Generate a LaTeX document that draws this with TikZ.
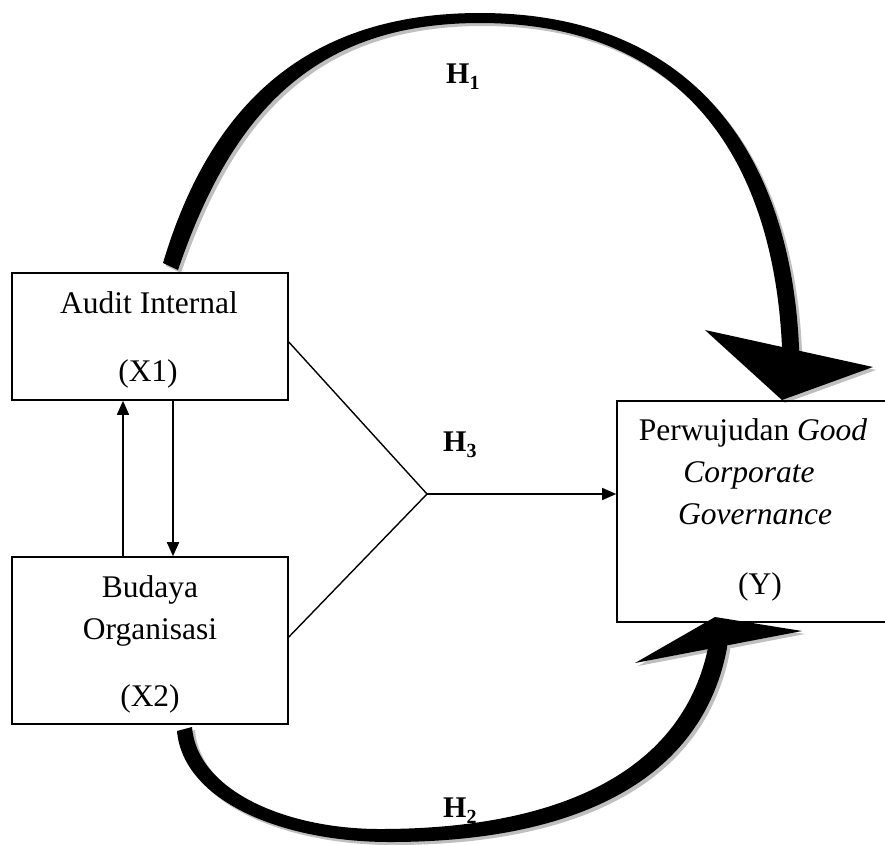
\documentclass[tikz,border=0pt]{standalone}
\usepackage{fontspec}
\setmainfont{Liberation Serif}
\usetikzlibrary{arrows.meta}
\newcommand{\hlab}[1]{\textbf{H}\raisebox{-6pt}{\fontsize{20}{20}\selectfont\bfseries #1}}
\begin{document}
\begin{tikzpicture}[x=1pt,y=-1pt,
  box/.style={draw, line width=1.6pt, rectangle, inner sep=0pt},
  txt/.style={inner sep=0pt, anchor=base, font=\fontsize{31.5}{38}\selectfont},
  hl/.style={inner sep=0pt, anchor=base west, font=\fontsize{30}{36}\selectfont},
  fanline/.style={line width=1.4pt},
  arr/.style={line width=1.6pt, -{Triangle[length=14pt,width=12pt]}},
  shadowfill/.style={fill=black!25, shift={(3,3)}},
  blk/.style={fill=black}
]
\useasboundingbox (0,0) rectangle (885,844);

% H1 curved arrow: shadow
\fill[shadowfill] (163,263) .. controls (208,112) and (300,13) .. (480,13)
  .. controls (690,13) and (790,150) .. (799,347) -- (799,355) -- (782,355) -- (782,347)
  .. controls (773,155) and (680,23) .. (480,23)
  .. controls (310,23) and (230,118) .. (178,270) -- cycle;
\fill[shadowfill] (705,330) -- (873,367) -- (782,400) -- cycle;
% H1 curved arrow: body
\fill[blk] (163,263) .. controls (208,112) and (300,13) .. (480,13)
  .. controls (690,13) and (790,150) .. (799,347) -- (799,355) -- (782,355) -- (782,347)
  .. controls (773,155) and (680,23) .. (480,23)
  .. controls (310,23) and (230,118) .. (178,270) -- cycle;
\fill[blk] (705,330) -- (873,367) -- (782,400) -- cycle;

% H2 curved arrow: shadow
\fill[shadowfill] (177,731) .. controls (183,800) and (280,842) .. (390,842)
  .. controls (560,842) and (700,790) .. (727,648) -- (727,640) -- (708,640) -- (708,648)
  .. controls (680,780) and (545,829) .. (380,829)
  .. controls (285,829) and (197,790) .. (192,727) -- cycle;
\fill[shadowfill] (635,663) -- (715,617) -- (802,631) -- cycle;
% H2 curved arrow: body
\fill[blk] (177,731) .. controls (183,800) and (280,842) .. (390,842)
  .. controls (560,842) and (700,790) .. (727,648) -- (727,640) -- (708,640) -- (708,648)
  .. controls (680,780) and (545,829) .. (380,829)
  .. controls (285,829) and (197,790) .. (192,727) -- cycle;
\fill[blk] (635,663) -- (715,617) -- (802,631) -- cycle;

% boxes
\node[box, minimum width=276pt, minimum height=127pt] (x1) at (150,336.5) {};
\node[box, minimum width=276pt, minimum height=167pt] (x2) at (150,640.5) {};
\node[box, minimum width=270pt, minimum height=221pt] (y) at (752,511.5) {};

% texts
\node[txt] (t1) at (149,313) {Audit Internal};
\node[txt] (t2) at (148,381) {(X1)};
\node[txt] (t3) at (150,597) {Budaya};
\node[txt] (t4) at (150,639) {Organisasi};
\node[txt] (t5) at (150,706) {(X2)};
\node[txt] (t6) at (753,440) {Perwujudan \textit{Good}};
\node[txt] (t7) at (749,482) {\textit{Corporate}};
\node[txt] (t8) at (755,524) {\textit{Governance}};
\node[txt] (t9) at (760,594) {(Y)};

% labels
\node[hl] (h1) at (446,83) {\hlab{1}};
\node[hl] (h2) at (443,817) {\hlab{2}};
\node[hl] (h3) at (443,451) {\hlab{3}};

% connectors
\coordinate (ua) at (123,0);
\coordinate (da) at (173,0);
\draw[arr] (x2.north -| ua) -- (x1.south -| ua);
\draw[arr] (x1.south -| da) -- (x2.north -| da);

\coordinate (j) at (427,494);
\draw[fanline] ([yshift=-5.5pt]x1.east) -- (j) -- ([yshift=3.5pt]x2.east);
\draw[arr, line width=1.4pt] (j) -- (j -| y.west);
\end{tikzpicture}
\end{document}
